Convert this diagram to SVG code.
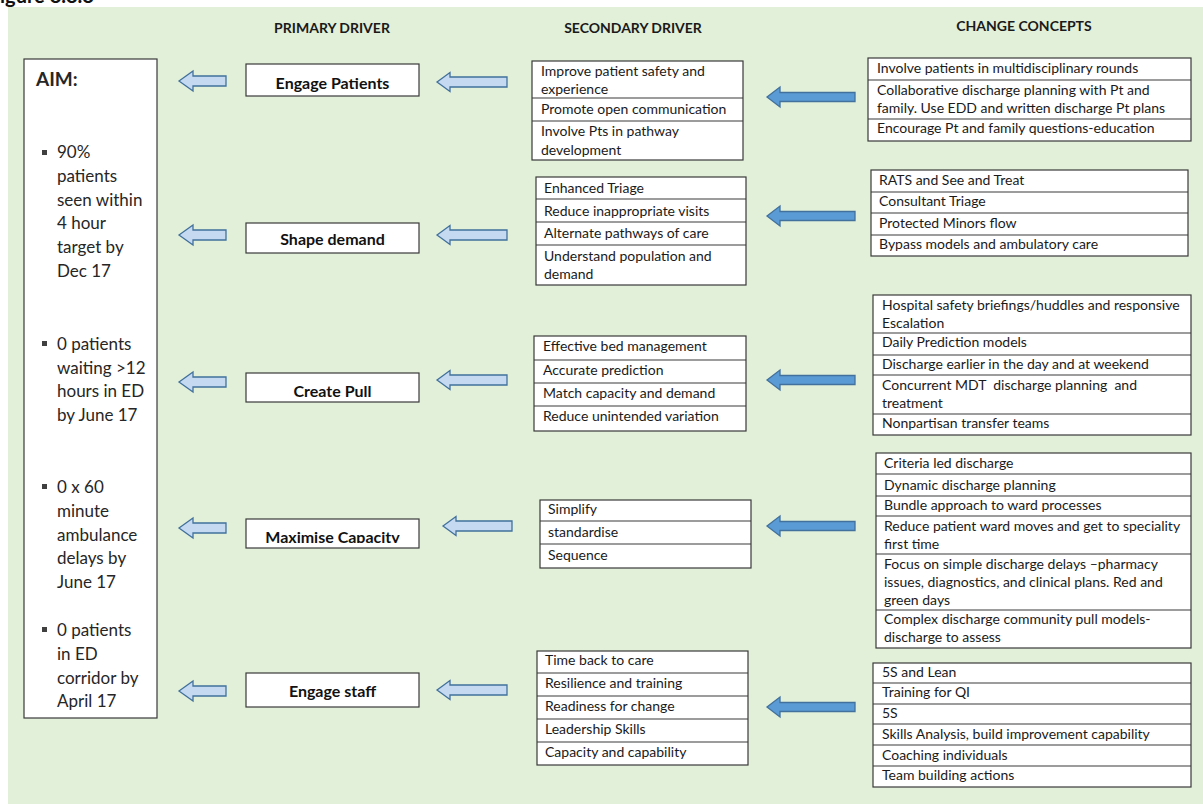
<svg xmlns="http://www.w3.org/2000/svg" width="1203" height="804" viewBox="0 0 1203 804">
<defs>
<style>
.bg{fill:#e2efd9}
.box{fill:#fff;stroke:#3a3a3a;stroke-width:1.2}
.div{stroke:#3a3a3a;stroke-width:1.2}
.t{font-family:Lato,"Liberation Sans",sans-serif;font-size:14px;fill:#1a1a1a}
.h{font-family:Lato,"Liberation Sans",sans-serif;font-size:14px;font-weight:bold;fill:#1a1a1a}
.p{font-family:Lato,"Liberation Sans",sans-serif;font-size:16px;font-weight:bold;fill:#111;text-anchor:middle}
.aim{font-family:Lato,"Liberation Sans",sans-serif;font-size:17px;fill:#262626}
.la{fill:#c5d9f1;stroke:#41719c;stroke-width:1.3}
.da{fill:#5b9bd5;stroke:#41719c;stroke-width:1.3}
.bul{fill:#404040}
</style>
<clipPath id="mcclip"><rect x="246" y="519" width="173" height="24"/></clipPath>
</defs>
<rect x="0" y="0" width="1203" height="804" fill="#fff"/>
<rect class="bg" x="8" y="7" width="1195" height="797"/>
<text x="0" y="3" font-family="Lato,'Liberation Sans',sans-serif" font-size="20" font-weight="bold" fill="#111">igure 8.8.8</text>

<g id="headers">
<text class="h" x="332" y="33" text-anchor="middle">PRIMARY DRIVER</text>
<text class="h" x="633" y="33" text-anchor="middle">SECONDARY DRIVER</text>
<text class="h" x="1024" y="31" text-anchor="middle">CHANGE CONCEPTS</text>
</g>

<g id="aim">
<rect class="box" x="24" y="59" width="133" height="659"/>
<text x="36" y="86" font-family="Lato,'Liberation Sans',sans-serif" font-size="19" font-weight="bold" fill="#262626">AIM:</text>
<rect class="bul" x="42" y="150" width="5" height="5"/>
<text class="aim" x="57"><tspan x="57" y="158">90%</tspan><tspan x="57" y="182">patients</tspan><tspan x="57" y="206">seen within</tspan><tspan x="57" y="229">4 hour</tspan><tspan x="57" y="253">target by</tspan><tspan x="57" y="277">Dec 17</tspan></text>
<rect class="bul" x="42" y="341" width="5" height="5"/>
<text class="aim" x="57"><tspan x="57" y="350">0 patients</tspan><tspan x="57" y="374">waiting &gt;12</tspan><tspan x="57" y="397">hours in ED</tspan><tspan x="57" y="421">by June 17</tspan></text>
<rect class="bul" x="42" y="484" width="5" height="5"/>
<text class="aim" x="57"><tspan x="57" y="493">0 x 60</tspan><tspan x="57" y="517">minute</tspan><tspan x="57" y="541">ambulance</tspan><tspan x="57" y="564">delays by</tspan><tspan x="57" y="588">June 17</tspan></text>
<rect class="bul" x="42" y="627" width="5" height="5"/>
<text class="aim" x="57"><tspan x="57" y="636">0 patients</tspan><tspan x="57" y="660">in ED</tspan><tspan x="57" y="684">corridor by</tspan><tspan x="57" y="707">April 17</tspan></text>
</g>

<g id="primary-engage-patients">
<rect class="box" x="246" y="64" width="173" height="32"/>
<text class="p" x="332.5" y="89">Engage Patients</text>
</g>
<g id="primary-shape-demand">
<rect class="box" x="246" y="223" width="173" height="30"/>
<text class="p" x="332.5" y="245">Shape demand</text>
</g>
<g id="primary-create-pull">
<rect class="box" x="246" y="373" width="173" height="29"/>
<text class="p" x="332.5" y="397">Create Pull</text>
</g>
<g id="primary-maximise-capacity">
<rect class="box" x="246" y="519" width="173" height="29"/>
<text class="p" x="332.5" y="543" clip-path="url(#mcclip)">Maximise Capacity</text>
</g>
<g id="primary-engage-staff">
<rect class="box" x="246" y="673" width="173" height="34"/>
<text class="p" x="332.5" y="697">Engage staff</text>
</g>

<g id="secondary-1">
<rect class="box" x="532" y="61" width="211" height="99"/>
<line class="div" x1="532" y1="98" x2="743" y2="98"/>
<line class="div" x1="532" y1="121" x2="743" y2="121"/>
<text class="t" x="541" y="76">Improve patient safety and</text>
<text class="t" x="541" y="94">experience</text>
<text class="t" x="541" y="114">Promote open communication</text>
<text class="t" x="541" y="136">Involve Pts in pathway</text>
<text class="t" x="541" y="155">development</text>
</g>
<g id="secondary-2">
<rect class="box" x="536" y="177" width="210" height="108"/>
<line class="div" x1="536" y1="199" x2="746" y2="199"/>
<line class="div" x1="536" y1="222" x2="746" y2="222"/>
<line class="div" x1="536" y1="245" x2="746" y2="245"/>
<text class="t" x="544" y="193">Enhanced Triage</text>
<text class="t" x="544" y="216">Reduce inappropriate visits</text>
<text class="t" x="544" y="238">Alternate pathways of care</text>
<text class="t" x="544" y="261">Understand population and</text>
<text class="t" x="544" y="279">demand</text>
</g>
<g id="secondary-3">
<rect class="box" x="534" y="336" width="212" height="95"/>
<line class="div" x1="534" y1="360" x2="746" y2="360"/>
<line class="div" x1="534" y1="383" x2="746" y2="383"/>
<line class="div" x1="534" y1="406" x2="746" y2="406"/>
<text class="t" x="543" y="351">Effective bed management</text>
<text class="t" x="543" y="375">Accurate prediction</text>
<text class="t" x="543" y="398">Match capacity and demand</text>
<text class="t" x="543" y="421">Reduce unintended variation</text>
</g>
<g id="secondary-4">
<rect class="box" x="540" y="500" width="211" height="68"/>
<line class="div" x1="540" y1="521" x2="751" y2="521"/>
<line class="div" x1="540" y1="544" x2="751" y2="544"/>
<text class="t" x="548" y="514">Simplify</text>
<text class="t" x="548" y="537">standardise</text>
<text class="t" x="548" y="560">Sequence</text>
</g>
<g id="secondary-5">
<rect class="box" x="537" y="651" width="211" height="114"/>
<line class="div" x1="537" y1="673" x2="748" y2="673"/>
<line class="div" x1="537" y1="696" x2="748" y2="696"/>
<line class="div" x1="537" y1="719" x2="748" y2="719"/>
<line class="div" x1="537" y1="742" x2="748" y2="742"/>
<text class="t" x="545" y="665">Time back to care</text>
<text class="t" x="545" y="688">Resilience and training</text>
<text class="t" x="545" y="711">Readiness for change</text>
<text class="t" x="545" y="734">Leadership Skills</text>
<text class="t" x="545" y="757">Capacity and capability</text>
</g>

<g id="change-1">
<rect class="box" x="868" y="58" width="323" height="83"/>
<line class="div" x1="868" y1="80" x2="1191" y2="80"/>
<line class="div" x1="868" y1="119" x2="1191" y2="119"/>
<text class="t" x="877" y="73">Involve patients in multidisciplinary rounds</text>
<text class="t" x="877" y="95">Collaborative discharge planning with Pt and</text>
<text class="t" x="877" y="113">family. Use EDD and written discharge Pt plans</text>
<text class="t" x="877" y="133">Encourage Pt and family questions-education</text>
</g>
<g id="change-2">
<rect class="box" x="871" y="170" width="317" height="86"/>
<line class="div" x1="871" y1="192" x2="1188" y2="192"/>
<line class="div" x1="871" y1="213" x2="1188" y2="213"/>
<line class="div" x1="871" y1="235" x2="1188" y2="235"/>
<text class="t" x="879" y="185">RATS and See and Treat</text>
<text class="t" x="879" y="206">Consultant Triage</text>
<text class="t" x="879" y="228">Protected Minors flow</text>
<text class="t" x="879" y="249">Bypass models and ambulatory care</text>
</g>
<g id="change-3">
<rect class="box" x="873" y="295" width="318" height="140"/>
<line class="div" x1="873" y1="333" x2="1191" y2="333"/>
<line class="div" x1="873" y1="355" x2="1191" y2="355"/>
<line class="div" x1="873" y1="375" x2="1191" y2="375"/>
<line class="div" x1="873" y1="414" x2="1191" y2="414"/>
<text class="t" x="882" y="310">Hospital safety briefings/huddles and responsive</text>
<text class="t" x="882" y="328">Escalation</text>
<text class="t" x="882" y="347">Daily Prediction models</text>
<text class="t" x="882" y="369">Discharge earlier in the day and at weekend</text>
<text class="t" x="882" y="390" xml:space="preserve">Concurrent MDT  discharge planning  and</text>
<text class="t" x="882" y="408">treatment</text>
<text class="t" x="882" y="428">Nonpartisan transfer teams</text>
</g>
<g id="change-4">
<rect class="box" x="876" y="453" width="315" height="195"/>
<line class="div" x1="876" y1="474" x2="1191" y2="474"/>
<line class="div" x1="876" y1="496" x2="1191" y2="496"/>
<line class="div" x1="876" y1="516" x2="1191" y2="516"/>
<line class="div" x1="876" y1="554" x2="1191" y2="554"/>
<line class="div" x1="876" y1="610" x2="1191" y2="610"/>
<text class="t" x="884" y="468">Criteria led discharge</text>
<text class="t" x="884" y="490">Dynamic discharge planning</text>
<text class="t" x="884" y="510">Bundle approach to ward processes</text>
<text class="t" x="884" y="531">Reduce patient ward moves and get to speciality</text>
<text class="t" x="884" y="549">first time</text>
<text class="t" x="884" y="569">Focus on simple discharge delays –pharmacy</text>
<text class="t" x="884" y="587">issues, diagnostics, and clinical plans. Red and</text>
<text class="t" x="884" y="605">green days</text>
<text class="t" x="884" y="624">Complex discharge community pull models-</text>
<text class="t" x="884" y="642">discharge to assess</text>
</g>
<g id="change-5">
<rect class="box" x="873" y="663" width="318" height="124"/>
<line class="div" x1="873" y1="683" x2="1191" y2="683"/>
<line class="div" x1="873" y1="704" x2="1191" y2="704"/>
<line class="div" x1="873" y1="724" x2="1191" y2="724"/>
<line class="div" x1="873" y1="745" x2="1191" y2="745"/>
<line class="div" x1="873" y1="766" x2="1191" y2="766"/>
<text class="t" x="882" y="677">5S and Lean</text>
<text class="t" x="882" y="697">Training for QI</text>
<text class="t" x="882" y="718">5S</text>
<text class="t" x="882" y="739">Skills Analysis, build improvement capability</text>
<text class="t" x="882" y="760">Coaching individuals</text>
<text class="t" x="882" y="780">Team building actions</text>
</g>

<g id="connectors">
<path class="la" d="M179,81 L193,71 L193,76 L226,76 L226,86 L193,86 L193,91 Z"/>
<path class="la" d="M179,235 L193,225 L193,230 L226,230 L226,240 L193,240 L193,245 Z"/>
<path class="la" d="M179,382 L193,372 L193,377 L226,377 L226,387 L193,387 L193,392 Z"/>
<path class="la" d="M179,528 L193,518 L193,523 L226,523 L226,533 L193,533 L193,538 Z"/>
<path class="la" d="M179,691 L193,681 L193,686 L226,686 L226,696 L193,696 L193,701 Z"/>

<path class="la" d="M437,82 L450,72.5 L450,77 L507,77 L507,87 L450,87 L450,91.5 Z"/>
<path class="la" d="M437,235 L450,225.5 L450,230 L507,230 L507,240 L450,240 L450,244.5 Z"/>
<path class="la" d="M437,380 L450,370.5 L450,375 L507,375 L507,385 L450,385 L450,389.5 Z"/>
<path class="la" d="M443,526 L456,516.5 L456,521 L512,521 L512,531 L456,531 L456,535.5 Z"/>
<path class="la" d="M437,690 L450,680.5 L450,685 L507,685 L507,695 L450,695 L450,699.5 Z"/>

<path class="da" d="M767,97 L780,87 L780,92.5 L855,92.5 L855,101.5 L780,101.5 L780,107 Z"/>
<path class="da" d="M767,216 L780,206 L780,211.5 L855,211.5 L855,220.5 L780,220.5 L780,226 Z"/>
<path class="da" d="M767,380 L780,370 L780,375.5 L855,375.5 L855,384.5 L780,384.5 L780,390 Z"/>
<path class="da" d="M767,526 L780,516 L780,521.5 L855,521.5 L855,530.5 L780,530.5 L780,536 Z"/>
<path class="da" d="M767,707 L780,697 L780,702.5 L855,702.5 L855,711.5 L780,711.5 L780,717 Z"/>
</g>
</svg>
